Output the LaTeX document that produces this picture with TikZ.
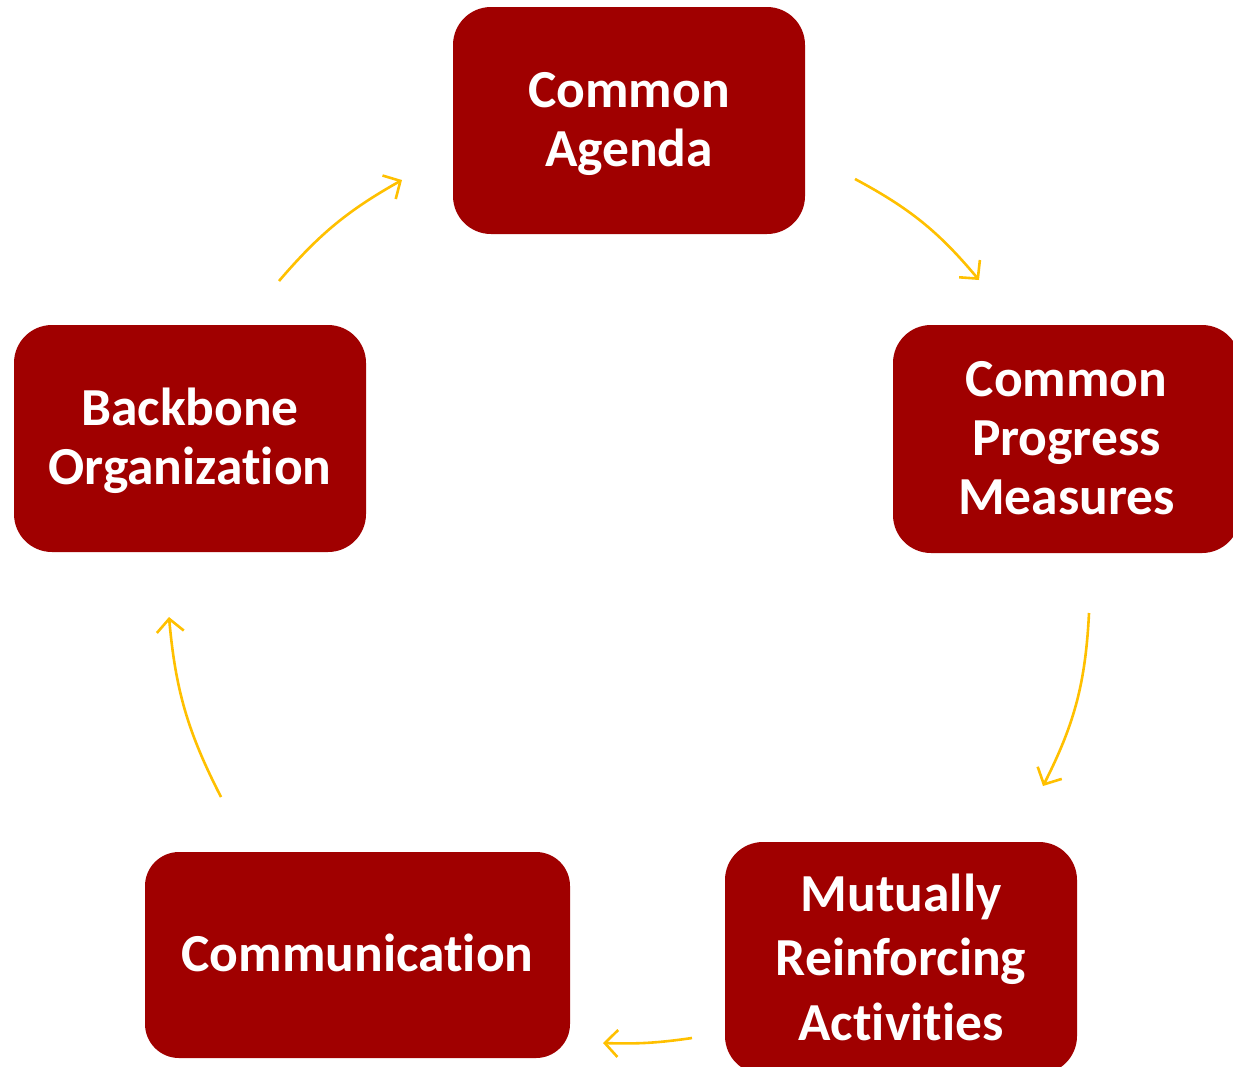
\documentclass[tikz,border=0pt]{standalone}
\usepackage{fontspec}
\setmainfont{Carlito}[Ligatures={NoCommon}]
\usetikzlibrary{arrows.meta}
\definecolor{boxred}{HTML}{A00000}
\definecolor{gold}{HTML}{FFC000}
\newcommand{\boxtext}[2][-5pt]{\raisebox{#1}[\height][\depth]{\begin{tabular}{@{}c@{}}#2\end{tabular}}}
\begin{document}
\begin{tikzpicture}[x=1pt,y=-1pt,
  box/.style={draw=none, fill=boxred, rounded corners=38pt, text=white,
    font=\bfseries\fontsize{53.5}{59}\selectfont, inner sep=0pt},
  cyc/.style={draw=gold, line width=2.6pt, -{Straight Barb[length=13pt,width=27pt]}}]
\useasboundingbox (0,0) rectangle (1233,1066);
\node[box, minimum width=352pt, minimum height=227pt] (agenda) at (629,120.5) {\boxtext{Common\\Agenda}};
\node[box, minimum width=347pt, minimum height=228pt] (progress) at (1066.5,439) {\boxtext{Common\\Progress\\Measures}};
\node[box, minimum width=352pt, minimum height=232pt, font=\bfseries\fontsize{53.5}{64.5}\selectfont] (mutual) at (901,958) {\boxtext{Mutually\\Reinforcing\\Activities}};
\node[box, minimum width=425pt, minimum height=206pt, rounded corners=34pt] (comm) at (357.5,955) {\boxtext{Communication}};
\node[box, minimum width=352pt, minimum height=227pt] (backbone) at (190,438.5) {\boxtext{Backbone\\Organization}};
\coordinate (a1s) at (855,179);
\coordinate (a1e) at (979,280);
\coordinate (a2s) at (1089,613);
\coordinate (a2e) at (1043,786);
\coordinate (a3s) at (692,1038);
\coordinate (a3e) at (603,1043);
\coordinate (a4s) at (221,797);
\coordinate (a4e) at (169,617);
\coordinate (a5s) at (279,281);
\coordinate (a5e) at (402,180);
\draw[cyc] (a1s) to[bend left=11] (a1e);
\draw[cyc] (a2s) to[bend left=12] (a2e);
\draw[cyc] (a3s) to[bend left=5] (a3e);
\draw[cyc] (a4s) to[bend left=11] (a4e);
\draw[cyc] (a5s) to[bend left=10] (a5e);
\end{tikzpicture}
\end{document}
